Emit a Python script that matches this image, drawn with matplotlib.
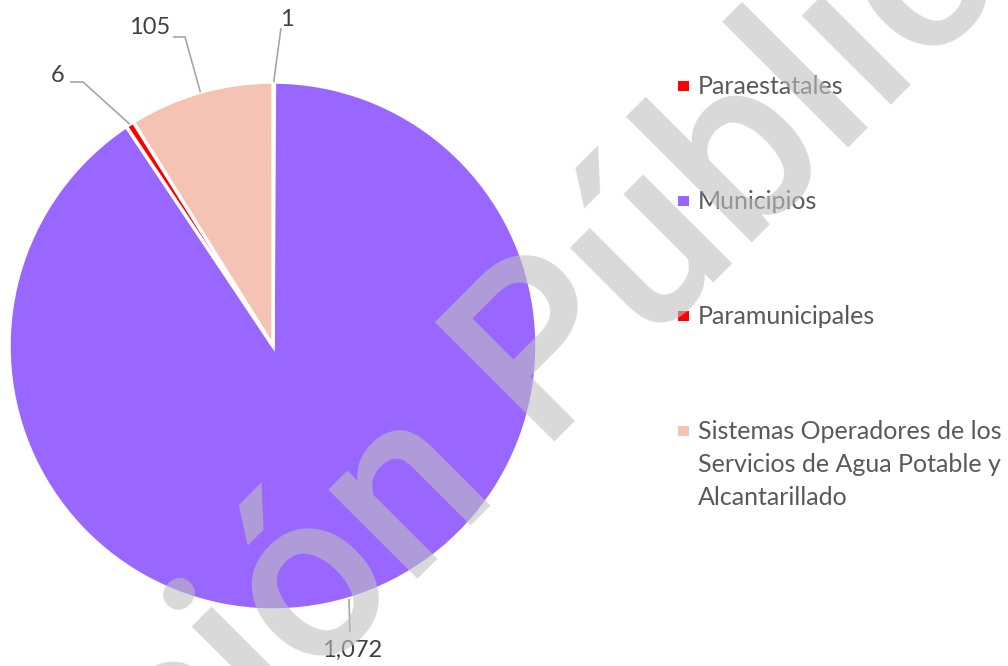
import matplotlib.pyplot as plt
import numpy as np
from matplotlib.patches import Rectangle
from matplotlib.textpath import TextPath
from matplotlib.font_manager import FontProperties

categorias = ["Paraestatales", "Municipios", "Paramunicipales",
              "Sistemas Operadores de los\nServicios de Agua Potable y\nAlcantarillado"]
valores = [1, 1072, 6, 105]
etiquetas = ["1", "1,072", "6", "105"]
colores = ["#ff0000", "#9966ff", "#ff0000", "#f4c3b3"]

plt.rcParams['font.family'] = ['Lato', 'DejaVu Sans']

fig = plt.figure(figsize=(10.08, 6.66), dpi=100)
ax = fig.add_axes([0, 0, 1, 1])

# pie in pixel units (1 data unit = 1 px)
cx, cy, r = 273, 320, 264
wedges, _ = ax.pie(valores, colors=colores, startangle=90, counterclock=False,
                   center=(cx, cy), radius=r,
                   wedgeprops=dict(edgecolor='white', linewidth=2.5))
ax.set_xlim(0, 1008)
ax.set_ylim(0, 666)
ax.axis('off')

# leader lines: (elbow/end points, text position)
guias = [
    ([(281, 638)], (287, 646)),
    ([(350, 34)], (352, 16)),
    ([(83, 584), (70, 584)], (58, 590)),
    ([(185, 629), (173, 629)], (150, 639)),
]
for w, lab, (pts, tpos) in zip(wedges, etiquetas, guias):
    th = np.deg2rad((w.theta1 + w.theta2) / 2)
    x0, y0 = cx + r * np.cos(th), cy + r * np.sin(th)
    xs = [x0] + [p[0] for p in pts]
    ys = [y0] + [p[1] for p in pts]
    ax.plot(xs, ys, color='#a6a6a6', lw=1.2, solid_capstyle='butt')
    ax.text(tpos[0], tpos[1], lab, ha='center', va='center', fontsize=17, color='#404040')

# legend drawn by hand (square + text), baselines in px from top
y_leg = [94, 209, 324, 439]
for cat, col, yb in zip(categorias, colores, y_leg):
    ax.add_patch(Rectangle((678, 666 - yb + 3), 11, 10, facecolor=col, edgecolor='none'))
    for k, linea in enumerate(cat.split('\n')):
        ax.text(698, 666 - yb - 33 * k, linea, ha='left', va='baseline',
                fontsize=18, color='#595959')

# watermark: placed so the 'ó' ring and the foot of the 'b' land where they are
marca = "Versión Pública"
fam, peso = 'Roboto', 'medium'
fp = FontProperties(family=fam, weight=peso)
px = 100 / 72


def ext(s):
    return TextPath((0, 0), s, size=100, prop=fp).get_extents()


e_o = ext("o")
p_o = np.array([ext("Versió").x1 - e_o.width / 2, e_o.y0 + e_o.height / 2])
p_b = np.array([ext("Versión Púb").x1 - ext("b").width, 0.0])
t_o = np.array([316, 666 - 592])
t_b = np.array([753, 666 - 243])
d_ref = t_b - t_o
d_txt = p_b - p_o
ang = np.arctan2(d_ref[1], d_ref[0]) - np.arctan2(d_txt[1], d_txt[0])
esc = np.hypot(*d_ref) / np.hypot(*d_txt)     # px per text unit (size 100)
size = 100 * esc / px
rot = np.array([[np.cos(ang), -np.sin(ang)], [np.sin(ang), np.cos(ang)]])
anc = t_o - rot @ (p_o * esc)
ax.text(anc[0], anc[1], marca, fontsize=size, family=[fam], fontweight=peso,
        color='#c0c0c0', alpha=0.6, rotation=np.degrees(ang),
        rotation_mode='anchor', ha='left', va='baseline', zorder=10)

fig.savefig('out.png', dpi=100)
